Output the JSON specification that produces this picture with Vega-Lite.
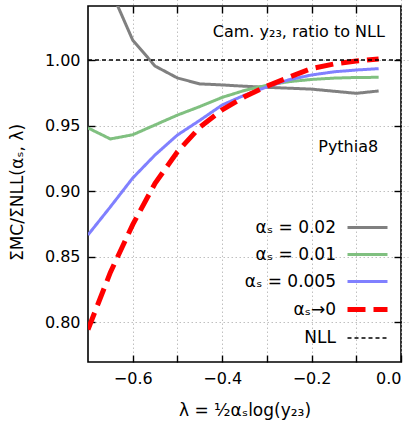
{
  "$schema": "https://vega.github.io/schema/vega-lite/v6.json",
  "width": 313,
  "height": 356,
  "autosize": {"type": "none"},
  "padding": {"left": 88, "top": 6, "right": 16, "bottom": 61},
  "config": {
    "font": "DejaVu Sans",
    "view": {"stroke": "black", "strokeWidth": 1.6},
    "axis": {
      "labelFont": "DejaVu Sans", "labelFontSize": 16, "labelColor": "black",
      "tickColor": "black", "tickSize": 7, "tickWidth": 1.4, "domain": false, "offset": -7,
      "titleFont": "DejaVu Sans", "titleFontSize": 17, "titleFontWeight": "normal", "titleColor": "black",
      "gridColor": "#b0b0b0", "gridDash": [1.5, 2.5], "gridWidth": 0.8
    },
    "legend": {
      "labelFont": "DejaVu Sans", "labelFontSize": 17, "labelColor": "black"
    }
  },
  "data": {"values": [
    {"series": "αₛ = 0.02", "x": -0.7, "y": 1.10},
    {"series": "αₛ = 0.02", "x": -0.65, "y": 1.054},
    {"series": "αₛ = 0.02", "x": -0.6, "y": 1.0152},
    {"series": "αₛ = 0.02", "x": -0.55, "y": 0.9954},
    {"series": "αₛ = 0.02", "x": -0.5, "y": 0.9863},
    {"series": "αₛ = 0.02", "x": -0.45, "y": 0.9818},
    {"series": "αₛ = 0.02", "x": -0.4, "y": 0.981},
    {"series": "αₛ = 0.02", "x": -0.35, "y": 0.980},
    {"series": "αₛ = 0.02", "x": -0.3, "y": 0.9792},
    {"series": "αₛ = 0.02", "x": -0.25, "y": 0.9785},
    {"series": "αₛ = 0.02", "x": -0.2, "y": 0.9778},
    {"series": "αₛ = 0.02", "x": -0.15, "y": 0.9762},
    {"series": "αₛ = 0.02", "x": -0.1, "y": 0.9746},
    {"series": "αₛ = 0.02", "x": -0.05, "y": 0.9764},
    {"series": "αₛ = 0.01", "x": -0.7, "y": 0.9482},
    {"series": "αₛ = 0.01", "x": -0.65, "y": 0.9398},
    {"series": "αₛ = 0.01", "x": -0.6, "y": 0.943},
    {"series": "αₛ = 0.01", "x": -0.55, "y": 0.9505},
    {"series": "αₛ = 0.01", "x": -0.5, "y": 0.958},
    {"series": "αₛ = 0.01", "x": -0.45, "y": 0.9645},
    {"series": "αₛ = 0.01", "x": -0.4, "y": 0.9715},
    {"series": "αₛ = 0.01", "x": -0.35, "y": 0.9768},
    {"series": "αₛ = 0.01", "x": -0.3, "y": 0.9808},
    {"series": "αₛ = 0.01", "x": -0.25, "y": 0.9835},
    {"series": "αₛ = 0.01", "x": -0.2, "y": 0.9852},
    {"series": "αₛ = 0.01", "x": -0.15, "y": 0.9862},
    {"series": "αₛ = 0.01", "x": -0.1, "y": 0.9867},
    {"series": "αₛ = 0.01", "x": -0.05, "y": 0.9868},
    {"series": "αₛ = 0.005", "x": -0.7, "y": 0.8666},
    {"series": "αₛ = 0.005", "x": -0.65, "y": 0.888},
    {"series": "αₛ = 0.005", "x": -0.6, "y": 0.910},
    {"series": "αₛ = 0.005", "x": -0.55, "y": 0.9276},
    {"series": "αₛ = 0.005", "x": -0.5, "y": 0.9428},
    {"series": "αₛ = 0.005", "x": -0.45, "y": 0.954},
    {"series": "αₛ = 0.005", "x": -0.4, "y": 0.9657},
    {"series": "αₛ = 0.005", "x": -0.35, "y": 0.9732},
    {"series": "αₛ = 0.005", "x": -0.3, "y": 0.9795},
    {"series": "αₛ = 0.005", "x": -0.25, "y": 0.985},
    {"series": "αₛ = 0.005", "x": -0.2, "y": 0.9886},
    {"series": "αₛ = 0.005", "x": -0.15, "y": 0.991},
    {"series": "αₛ = 0.005", "x": -0.1, "y": 0.9924},
    {"series": "αₛ = 0.005", "x": -0.05, "y": 0.9934},
    {"series": "αₛ→0", "x": -0.7, "y": 0.7945},
    {"series": "αₛ→0", "x": -0.65, "y": 0.838},
    {"series": "αₛ→0", "x": -0.6, "y": 0.8745},
    {"series": "αₛ→0", "x": -0.55, "y": 0.906},
    {"series": "αₛ→0", "x": -0.5, "y": 0.930},
    {"series": "αₛ→0", "x": -0.45, "y": 0.9487},
    {"series": "αₛ→0", "x": -0.4, "y": 0.962},
    {"series": "αₛ→0", "x": -0.35, "y": 0.972},
    {"series": "αₛ→0", "x": -0.3, "y": 0.980},
    {"series": "αₛ→0", "x": -0.25, "y": 0.987},
    {"series": "αₛ→0", "x": -0.2, "y": 0.9935},
    {"series": "αₛ→0", "x": -0.15, "y": 0.997},
    {"series": "αₛ→0", "x": -0.1, "y": 0.9992},
    {"series": "αₛ→0", "x": -0.05, "y": 1.0008},
    {"series": "NLL", "x": -0.7, "y": 1.0},
    {"series": "NLL", "x": 0.0, "y": 1.0}
  ]},
  "layer": [
    {
      "mark": {"type": "line", "clip": true},
      "encoding": {
        "x": {"field": "x", "type": "quantitative",
          "scale": {"domain": [-0.7, 0], "nice": false, "zero": false},
          "axis": {"orient": "bottom", "title": "λ = ½αₛlog(y₂₃)", "values": [-0.6, -0.5, -0.4, -0.3, -0.2, -0.1, 0],
            "labelExpr": "abs(round(datum.value*10)) % 2 == 0 ? format(datum.value, '.1f') : ''",
            "labelPadding": 8, "titlePadding": 16, "grid": true}},
        "y": {"field": "y", "type": "quantitative",
          "scale": {"domain": [0.7697, 1.0412], "nice": false, "zero": false},
          "axis": {"orient": "left", "title": "ΣMC/ΣNLL(αₛ, λ)", "values": [0.8, 0.85, 0.9, 0.95, 1.0],
            "format": ".2f", "labelPadding": 8, "titleX": -69, "titleY": 186, "grid": true}},
        "color": {"field": "series", "type": "nominal",
          "scale": {"domain": ["αₛ = 0.02", "αₛ = 0.01", "αₛ = 0.005", "αₛ→0", "NLL"],
            "range": ["#808080", "#80c080", "#8080ff", "#ff0000", "#000000"]},
          "legend": {"title": null, "orient": "none", "legendX": 267, "legendY": 210,
            "symbolType": "M-2,0H2", "symbolSize": 400, "labelAlign": "right", "labelOffset": -44, "rowPadding": 7}},
        "strokeDash": {"field": "series", "type": "nominal",
          "scale": {"domain": ["αₛ = 0.02", "αₛ = 0.01", "αₛ = 0.005", "αₛ→0", "NLL"],
            "range": [[1, 0], [1, 0], [1, 0], [18, 8], [4, 3]]},
          "legend": {"title": null}},
        "strokeWidth": {"field": "series", "type": "nominal",
          "scale": {"type": "ordinal", "domain": ["αₛ = 0.02", "αₛ = 0.01", "αₛ = 0.005", "αₛ→0", "NLL"],
            "range": [3, 3, 3, 5, 1.4]},
          "legend": {"title": null}}
      }
    },
    {
      "data": {"values": [
        {"x": -0.036, "y": 1.0213, "text": "Cam. y₂₃, ratio to NLL"},
        {"x": -0.051, "y": 0.9337, "text": "Pythia8"}
      ]},
      "mark": {"type": "text", "align": "right", "baseline": "middle", "fontSize": 16, "font": "DejaVu Sans", "color": "black"},
      "encoding": {
        "x": {"field": "x", "type": "quantitative",
          "axis": {"orient": "top", "title": null, "values": [-0.6, -0.5, -0.4, -0.3, -0.2, -0.1], "labels": false, "grid": false}},
        "y": {"field": "y", "type": "quantitative",
          "axis": {"orient": "right", "title": null, "values": [0.8, 0.85, 0.9, 0.95, 1.0], "labels": false, "grid": false}},
        "text": {"field": "text"}
      }
    }
  ],
  "resolve": {"axis": {"x": "independent", "y": "independent"}}
}
